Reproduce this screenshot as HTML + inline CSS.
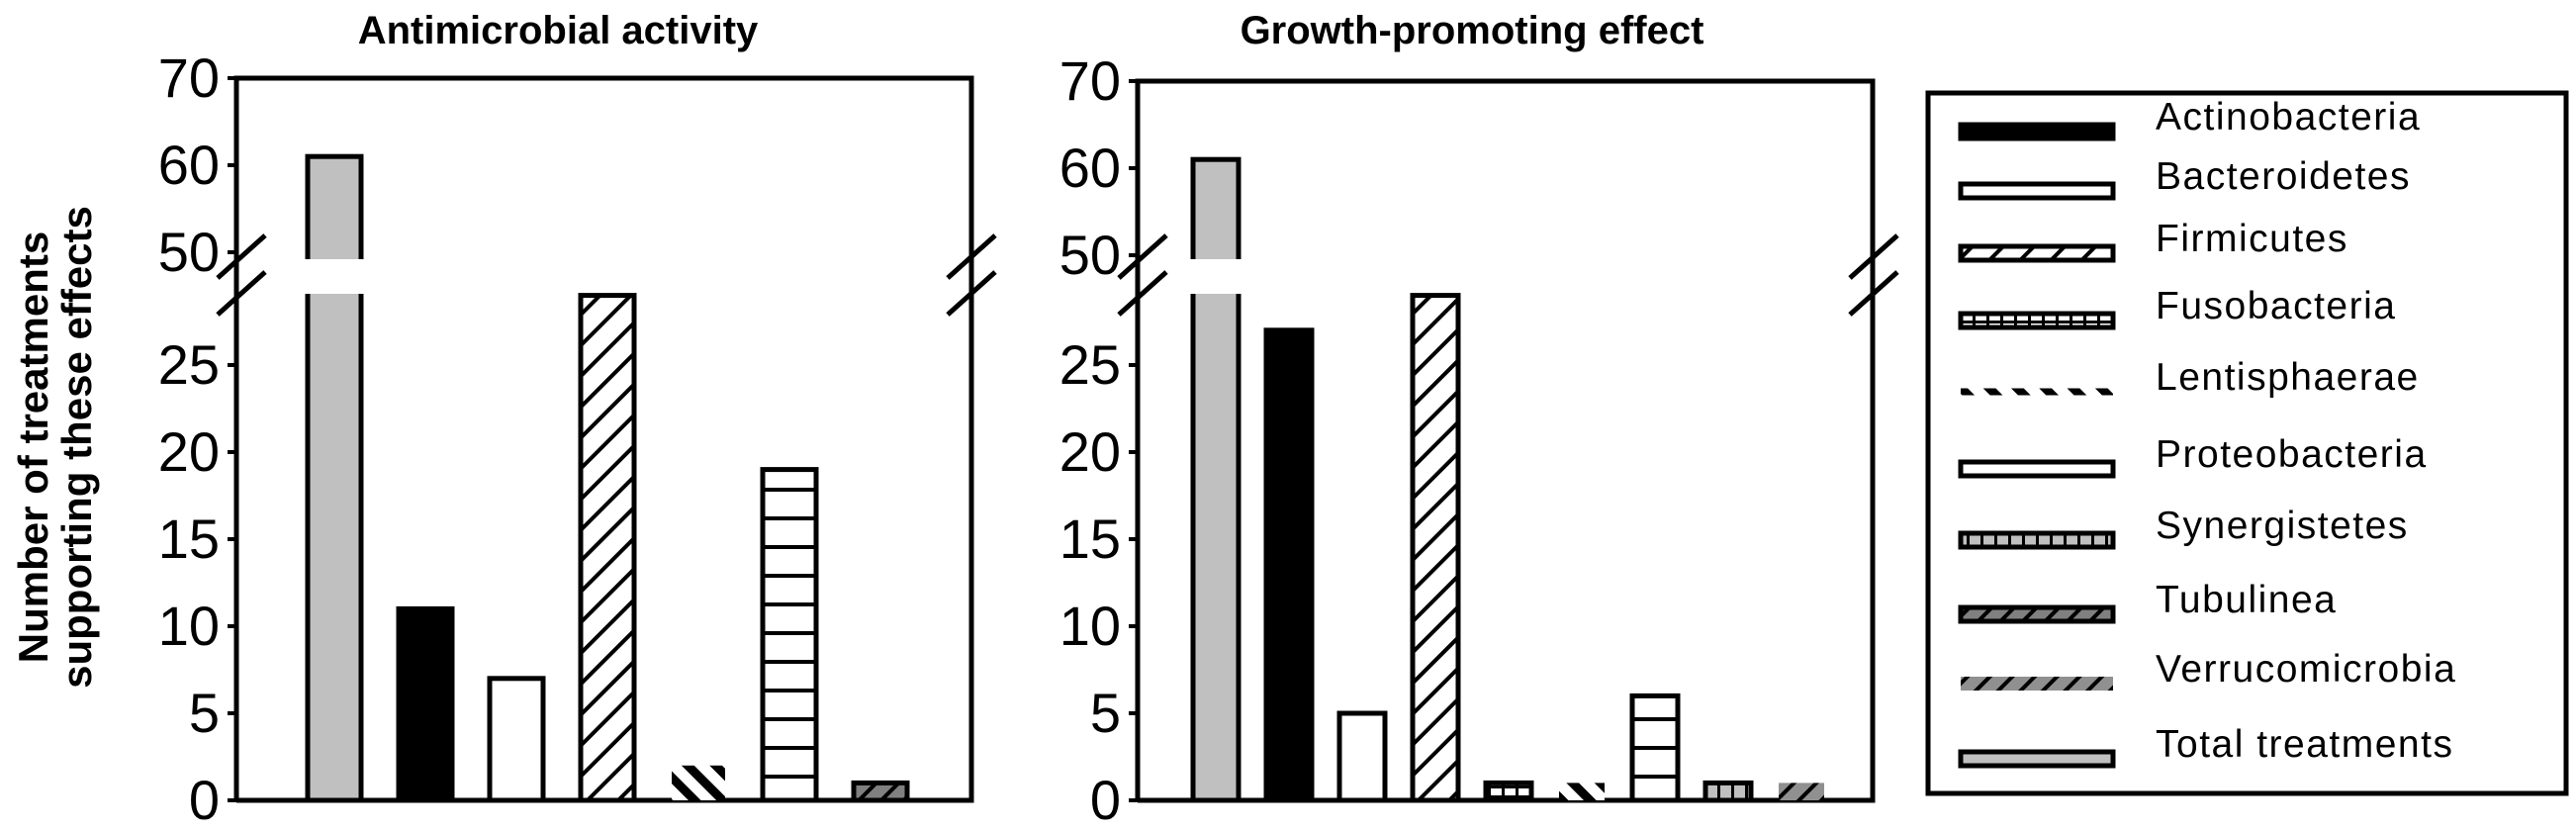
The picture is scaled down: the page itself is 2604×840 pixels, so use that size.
<!DOCTYPE html>
<html><head><meta charset="utf-8"><style>
html,body{margin:0;padding:0;background:#fff;}
svg{display:block;font-family:"Liberation Sans",sans-serif;}
</style></head><body>
<svg id="chart" width="2604" height="840" viewBox="0 0 2604 840" xmlns="http://www.w3.org/2000/svg">
<defs>
<pattern id="p-firm" patternUnits="userSpaceOnUse" width="22" height="22" patternTransform="rotate(45)"><rect width="22" height="22" fill="#fff"/><rect x="0" y="0" width="4" height="22" fill="#000"/></pattern>
<pattern id="p-lent" patternUnits="userSpaceOnUse" width="20" height="20" patternTransform="rotate(-45)"><rect width="20" height="20" fill="#fff"/><rect x="0" y="0" width="9" height="20" fill="#000"/></pattern>
<pattern id="p-prot" patternUnits="userSpaceOnUse" width="20" height="29"><rect width="20" height="29" fill="#fff"/><rect x="0" y="0" width="20" height="4" fill="#000"/></pattern>
<pattern id="p-fuso" patternUnits="userSpaceOnUse" width="14" height="10"><rect width="14" height="10" fill="#fff"/><rect x="0" y="4" width="14" height="3" fill="#000"/><rect x="6" y="0" width="3" height="10" fill="#000"/></pattern>
<pattern id="p-syn" patternUnits="userSpaceOnUse" width="14" height="14"><rect width="14" height="14" fill="#c0c0c0"/><rect x="0" y="0" width="3" height="14" fill="#000"/></pattern>
<pattern id="p-tub" patternUnits="userSpaceOnUse" width="16" height="16" patternTransform="rotate(45)"><rect width="16" height="16" fill="#808080"/><rect x="0" y="0" width="4" height="16" fill="#000"/></pattern>
<pattern id="p-ver" patternUnits="userSpaceOnUse" width="16" height="16" patternTransform="rotate(45)"><rect width="16" height="16" fill="#909090"/><rect x="0" y="0" width="4" height="16" fill="#000"/></pattern>
</defs>
<g id="plots"></g>
<text transform="translate(48,452) rotate(-90)" text-anchor="middle" font-weight="bold" font-size="42">Number of treatments</text>
<text transform="translate(92,452) rotate(-90)" text-anchor="middle" font-weight="bold" font-size="42">supporting these effects</text>
<g id="legend"></g>
</svg>
<script>
const styles = {
  "Total treatments": {fill:"#c0c0c0"},
  "Actinobacteria": {fill:"#000"},
  "Bacteroidetes": {fill:"#fff"},
  "Firmicutes": {fill:"url(#p-firm)"},
  "Fusobacteria": {fill:"url(#p-fuso)"},
  "Lentisphaerae": {fill:"url(#p-lent)", noStroke:true},
  "Proteobacteria": {fill:"url(#p-prot)"},
  "Synergistetes": {fill:"url(#p-syn)"},
  "Tubulinea": {fill:"url(#p-tub)"},
  "Verrucomicrobia": {fill:"url(#p-ver)", noStroke:true}
};
const antiCategories = ["Total treatments","Actinobacteria","Bacteroidetes","Firmicutes","Lentisphaerae","Proteobacteria","Tubulinea"];
const antiValues = [61, 11, 7, 29, 2, 19, 1];
const growthCategories = ["Total treatments","Actinobacteria","Bacteroidetes","Firmicutes","Fusobacteria","Lentisphaerae","Proteobacteria","Synergistetes","Verrucomicrobia"];
const growthValues = [61, 27, 5, 29, 1, 1, 6, 1, 1];
const tickValues = [0,5,10,15,20,25,50,60,70];
const tickLabels = ["0","5","10","15","20","25","50","60","70"];
const legendLabels = ["Actinobacteria","Bacteroidetes","Firmicutes","Fusobacteria","Lentisphaerae","Proteobacteria","Synergistetes","Tubulinea","Verrucomicrobia","Total treatments"];

const NS = "http://www.w3.org/2000/svg";
function el(tag, attrs, parent){const e=document.createElementNS(NS,tag);for(const k in attrs)e.setAttribute(k,attrs[k]);parent.appendChild(e);return e;}
function yScale(v, top, bottom){
  if (v <= 35) return bottom - v*17.6;
  return top + (70 - v)*8.8;
}
const plots = document.getElementById('plots');

function drawPanel(cfg){
  const g = el('g',{},plots);
  
  
  const {left,right,top,bottom} = cfg;
  const t = el('text',{x:cfg.titleX,y:44,'text-anchor':'middle','font-weight':'bold','font-size':40},g);
  t.textContent = cfg.title;
  
  
  const f = el('path',{d:`M${left},${bottom} L${left},${top} L${right},${top} L${right},${bottom} L${left},${bottom}`,fill:'none',stroke:'#000','stroke-width':5},g);
  
  
  tickValues.forEach((v,i)=>{
    const y = yScale(v, top, bottom);
    el('line',{x1:left-9,x2:left,y1:y,y2:y,stroke:'#000','stroke-width':4},g);
    const lb = el('text',{x:left-17,y:y+19,'text-anchor':'end','font-size':56},g);
    lb.textContent = tickLabels[i];
    
    
  });
  const step = cfg.step;
  cfg.cats.forEach((c,i)=>{
    const v = cfg.vals[i];
    const cx = cfg.firstX + i*step;
    const w = cfg.barW;
    const y = yScale(v, top, bottom);
    const s = styles[c];
    const r = el('rect',{x:cx-w/2,y:y,width:w,height:bottom-y,fill:s.fill,stroke:s.noStroke?'none':'#000','stroke-width':5},g);
    
    
    if (v > 35) {
      el('rect',{x:cx-w/2-5,y:262,width:w+10,height:35,fill:'#fff'},g);
    }
  });
  const bm = el('g',{stroke:'#000','stroke-width':5},g);
  
  
  cfg.breaks.forEach(b=>{
    el('line',{x1:b[0],y1:281,x2:b[0]+48,y2:238},bm);
    el('line',{x1:b[0],y1:318,x2:b[0]+48,y2:275},bm);
  });
}
drawPanel({name:'antimicrobial-panel',title:'Antimicrobial  activity',titleX:564,left:239,right:982,top:79,bottom:809,cats:antiCategories,vals:antiValues,firstX:338,step:92,barW:54,breaks:[[220],[958]]});
drawPanel({name:'growth-panel',title:'Growth-promoting effect',titleX:1488,left:1150,right:1893,top:82,bottom:809,cats:growthCategories,vals:growthValues,firstX:1229,step:74,barW:46,breaks:[[1131],[1870]]});

const lg = document.getElementById('legend');
const box = el('rect',{x:1949,y:94,width:645,height:708,fill:'#fff',stroke:'#000','stroke-width':5},lg);


const rowY = [133,193,256,324,396,474,546,621,691,767];
legendLabels.forEach((lab,i)=>{
  const gg = el('g',{},lg);
  
  
  const s = styles[lab];
  const y = rowY[i];
  const h = lab==="Lentisphaerae"?7:14;
  el('rect',{x:1982,y:y-h/2,width:154,height:h,fill:s.fill,stroke:s.noStroke?'none':'#000','stroke-width':5},gg);
  const t = el('text',{x:2179,y:y-2,'font-size':39,'letter-spacing':1.5},gg);
  t.textContent = lab;
});
</script>
</body></html>
